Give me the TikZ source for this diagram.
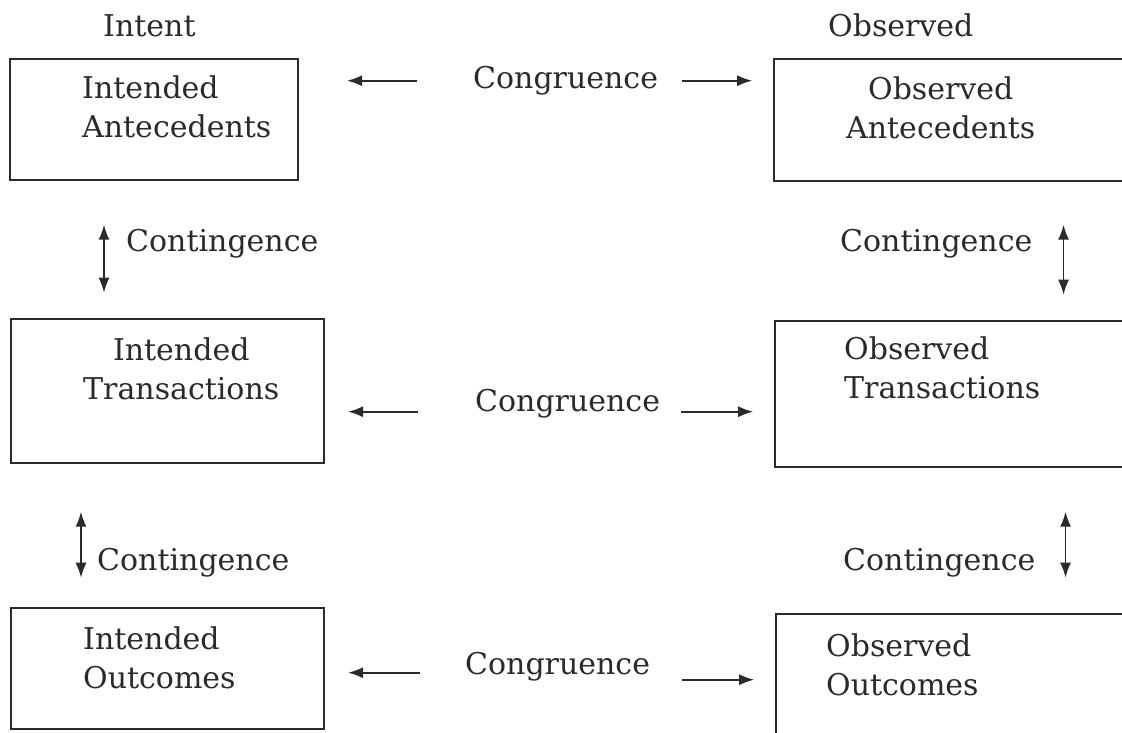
\documentclass[tikz,border=0pt]{standalone}
\usepackage{fontspec}
\setmainfont{DejaVu Serif}
\usetikzlibrary{arrows.meta}
\definecolor{ink}{HTML}{2A2A2A}
\tikzset{
  box/.style={draw=ink, line width=1.8pt, anchor=north west, inner sep=0pt},
  lbl/.style={text=ink, inner sep=0pt, anchor=base west, font=\fontsize{30}{38.5}\selectfont},
  link/.style={draw=ink, line width=1.8pt},
}
\begin{document}
\begin{tikzpicture}[x=1pt,y=-1pt,>={Latex[length=15pt,width=11pt]}]
    \useasboundingbox (0,0) rectangle (1122,732);
    \clip (0,0) rectangle (1122,732);
    \fill[white] (0,0) rectangle (1122,732);

    \node[lbl] (intent) at (103,36) {Intent};
    \node[lbl] (observed) at (828,36) {Observed};

    \node[box,minimum width=288,minimum height=121] (ia) at (9,58) {};
    \node[box,minimum width=313,minimum height=144] (it) at (10,318) {};
    \node[box,minimum width=313,minimum height=121] (io) at (10,607) {};
    \node[box,minimum width=370,minimum height=122] (oa) at (773,58) {};
    \node[box,minimum width=370,minimum height=146] (ot) at (774,320) {};
    \node[box,minimum width=370,minimum height=140] (oo) at (775,613) {};

    % last-line baselines
    \node[lbl,align=left] (iatext) at (82,137) {Intended\\Antecedents};
    \node[lbl,align=center] (ittext) at (83,399) {Intended\\Transactions};
    \node[lbl,align=left] (iotext) at (83,688) {Intended\\Outcomes};
    \node[lbl,align=center] (oatext) at (846,138) {Observed\\Antecedents};
    \node[lbl,align=left] (ottext) at (844,398) {Observed\\Transactions};
    \node[lbl,align=left] (ootext) at (826,695) {Observed\\Outcomes};

    \node[lbl] (cgA) at (473,88) {Congruence};
    \node[lbl] (cgB) at (475,411) {Congruence};
    \node[lbl] (cgC) at (465,674) {Congruence};
    \draw[link,->] ([shift={(-56,0.5)}]cgA.west) -- ++(-70,0);
    \draw[link,->] ([shift={(24,0.5)}]cgA.east) -- ++(70,0);
    \draw[link,->] ([shift={(-57,8.5)}]cgB.west) -- ++(-70,0);
    \draw[link,->] ([shift={(21,8.5)}]cgB.east) -- ++(72,0);
    \draw[link,->] ([shift={(-45,6.5)}]cgC.west) -- ++(-72,0);
    \draw[link,->] ([shift={(32,13.5)}]cgC.east) -- ++(72,0);

    \node[lbl] (ctA) at (126,251) {Contingence};
    \node[lbl] (ctB) at (97,570) {Contingence};
    \node[lbl] (ctC) at (840,251) {Contingence};
    \node[lbl] (ctD) at (843,570) {Contingence};
    \draw[link,<->] ([shift={(-22,-18.5)}]ctA.west) -- ++(0,68);
    \draw[link,<->] ([shift={(-16,-50.5)}]ctB.west) -- ++(0,66);
    \draw[link,<->] ([shift={(31,-18.5)}]ctC.east) -- ++(0,70);
    \draw[link,<->] ([shift={(30,-50.5)}]ctD.east) -- ++(0,66);
\end{tikzpicture}
\end{document}
